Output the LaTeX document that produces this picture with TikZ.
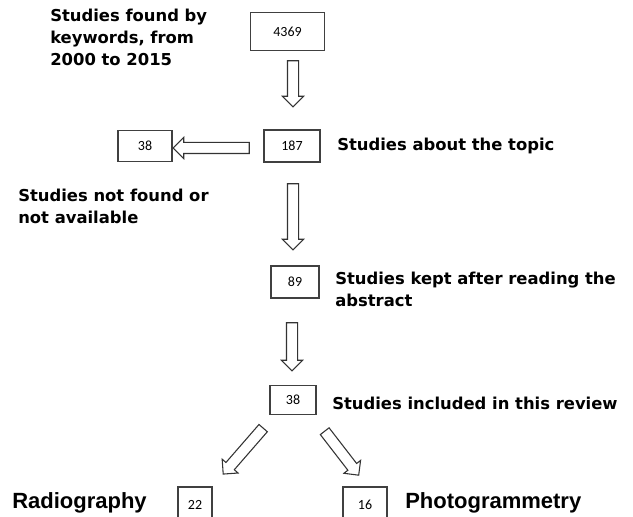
\documentclass[tikz,border=0pt]{standalone}
\usepackage{fontspec}
\setmainfont{Liberation Sans}
\newfontfamily\heavyfont{DejaVu Sans}
\newfontfamily\countfont{Carlito}
\usetikzlibrary{shapes.arrows,calc}

\tikzset{
  countbox/.style={draw=black!75, line width=0.9pt, inner sep=0pt, font=\countfont\fontsize{10.5}{11}\selectfont},
  caption/.style={anchor=west, align=left, inner sep=0pt, font=\heavyfont\fontsize{12.3}{16.5}\selectfont\bfseries},
  bigcaption/.style={anchor=west, inner sep=0pt, font=\fontsize{16.5}{19}\selectfont\bfseries},
  fatarrow/.style={single arrow, draw=black!80, line width=0.8pt, fill=white, inner sep=0pt,
    single arrow head extend=3.75pt, single arrow tip angle=90}
}

% block arrow node spanning two named coordinates
\newcommand\blockarrow[3]{%
  \path let \p1=(#2), \p2=(#3), \n1={veclen(\x2-\x1,\y2-\y1)}, \n2={atan2(\y2-\y1,\x2-\x1)} in
    node[fatarrow, minimum height=\n1, rotate=\n2] (#1) at ($(#2)!0.5!(#3)$) {\rule{0pt}{7.5pt}};}

\begin{document}
\begin{tikzpicture}[x=0.75pt, y=-0.75pt]
  \useasboundingbox (0,0) rectangle (633,517);

  % boxes with counts
  \node[countbox, minimum width=56pt, minimum height=28.5pt] (found) at (287.5,31.5) {4369};
  \node[countbox, minimum width=42pt, minimum height=24pt] (topic) at (292,146) {187};
  \node[countbox, minimum width=40.5pt, minimum height=23pt] (missing) at (145,146) {38};
  \node[countbox, minimum width=36pt, minimum height=24pt] (kept) at (295,282) {89};
  \node[countbox, minimum width=34.5pt, minimum height=22pt] (included) at (293,400) {38};
  \node[countbox, minimum width=25.5pt, minimum height=27pt] (radio) at (195,505) {22};
  \node[countbox, minimum width=33pt, minimum height=27pt] (photo) at (365,505) {16};

  % captions
  \node[caption, anchor=north west] (foundtxt) at (50,9) {Studies found by\\keywords, from\\2000 to 2015};
  \node[caption] (topictxt) at (337,146) {Studies about the topic};
  \node[caption] (missingtxt) at (18,206) {Studies not found or\\not available};
  \node[caption] (kepttxt) at (335,289) {Studies kept after reading the\\abstract};
  \node[caption] (includedtxt) at (332,403) {Studies included in this review};
  \node[bigcaption] (radiotxt) at (12,503) {Radiography};
  \node[bigcaption] (phototxt) at (405,503) {Photogrammetry};

  % arrow ends
  \coordinate (a1s) at (293,58);   \coordinate (a1e) at (293,104);
  \coordinate (a2s) at (252,148);  \coordinate (a2e) at (176,148);
  \coordinate (a3s) at (293,181);  \coordinate (a3e) at (293,247);
  \coordinate (a4s) at (292,320);  \coordinate (a4e) at (292,368);
  \coordinate (a5s) at (265,426);  \coordinate (a5e) at (225,472);
  \coordinate (a6s) at (323,429);  \coordinate (a6e) at (357,473);

  \blockarrow{toTopic}{a1s}{a1e}
  \blockarrow{toMissing}{a2s}{a2e}
  \blockarrow{toKept}{a3s}{a3e}
  \blockarrow{toIncluded}{a4s}{a4e}
  \blockarrow{toRadio}{a5s}{a5e}
  \blockarrow{toPhoto}{a6s}{a6e}
\end{tikzpicture}
\end{document}
